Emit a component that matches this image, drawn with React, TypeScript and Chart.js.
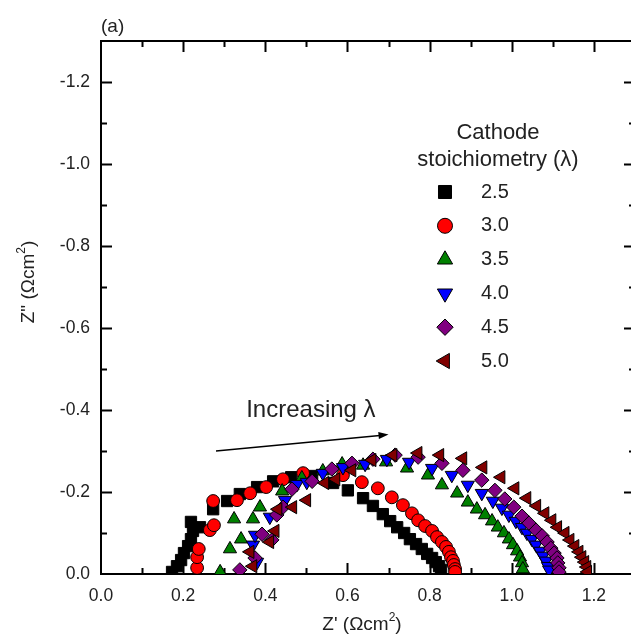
import React, { useEffect, useRef } from 'react';
import { Chart, registerables } from 'chart.js';

Chart.register(...registerables);

// ---- Data (Z' in Ωcm², Z'' in Ωcm²) ----
const seriesLabels = ['2.5', '3.0', '3.5', '4.0', '4.5', '5.0'];

const x25 = [0.173, 0.185, 0.195, 0.202, 0.212, 0.219, 0.224, 0.219, 0.241, 0.273, 0.307, 0.338, 0.380, 0.419, 0.463, 0.514, 0.565, 0.601, 0.638, 0.662, 0.686, 0.704, 0.721, 0.738, 0.752, 0.767, 0.781, 0.794, 0.806, 0.815, 0.823, 0.828];
const y25 = [-0.005, -0.019, -0.034, -0.051, -0.068, -0.085, -0.105, -0.127, -0.114, -0.158, -0.178, -0.195, -0.212, -0.226, -0.236, -0.239, -0.222, -0.204, -0.185, -0.166, -0.146, -0.129, -0.114, -0.100, -0.085, -0.073, -0.061, -0.049, -0.039, -0.029, -0.019, -0.010];

const x30 = [0.234, 0.234, 0.238, 0.265, 0.275, 0.273, 0.331, 0.363, 0.402, 0.443, 0.492, 0.589, 0.635, 0.674, 0.708, 0.735, 0.757, 0.772, 0.789, 0.806, 0.818, 0.830, 0.840, 0.847, 0.852, 0.857, 0.859, 0.862, 0.862];
const y30 = [-0.015, -0.041, -0.061, -0.107, -0.119, -0.178, -0.180, -0.197, -0.212, -0.231, -0.246, -0.241, -0.224, -0.209, -0.187, -0.168, -0.148, -0.131, -0.117, -0.105, -0.090, -0.078, -0.066, -0.054, -0.041, -0.032, -0.022, -0.012, -0.005];

const x35 = [0.290, 0.314, 0.341, 0.324, 0.370, 0.387, 0.441, 0.489, 0.540, 0.587, 0.638, 0.694, 0.745, 0.796, 0.830, 0.867, 0.893, 0.915, 0.935, 0.952, 0.966, 0.981, 0.993, 1.003, 1.013, 1.020, 1.025, 1.027];
const y35 = [-0.005, -0.061, -0.085, -0.134, -0.134, -0.163, -0.202, -0.234, -0.251, -0.268, -0.265, -0.273, -0.258, -0.241, -0.217, -0.197, -0.175, -0.158, -0.144, -0.129, -0.114, -0.100, -0.085, -0.071, -0.056, -0.041, -0.027, -0.012];

const x40 = [0.380, 0.370, 0.375, 0.411, 0.448, 0.477, 0.501, 0.540, 0.589, 0.643, 0.696, 0.750, 0.806, 0.854, 0.893, 0.927, 0.954, 0.976, 0.993, 1.010, 1.025, 1.037, 1.049, 1.059, 1.069, 1.076, 1.083, 1.088, 1.091];
const y40 = [-0.029, -0.071, -0.095, -0.139, -0.180, -0.219, -0.224, -0.246, -0.260, -0.268, -0.280, -0.273, -0.258, -0.241, -0.217, -0.197, -0.178, -0.161, -0.144, -0.129, -0.114, -0.100, -0.085, -0.071, -0.056, -0.044, -0.032, -0.019, -0.010];

const x45 = [0.338, 0.375, 0.392, 0.416, 0.428, 0.443, 0.465, 0.514, 0.562, 0.611, 0.662, 0.716, 0.772, 0.830, 0.881, 0.927, 0.959, 0.983, 1.005, 1.025, 1.042, 1.059, 1.074, 1.086, 1.095, 1.103, 1.110, 1.112, 1.115, 1.115];
const y45 = [-0.010, -0.039, -0.097, -0.083, -0.144, -0.163, -0.207, -0.226, -0.256, -0.270, -0.280, -0.290, -0.285, -0.270, -0.253, -0.229, -0.204, -0.183, -0.163, -0.141, -0.124, -0.107, -0.093, -0.078, -0.063, -0.051, -0.039, -0.027, -0.015, -0.005];

const x50 = [0.370, 0.363, 0.411, 0.424, 0.431, 0.467, 0.501, 0.545, 0.572, 0.611, 0.660, 0.711, 0.772, 0.825, 0.881, 0.930, 0.974, 1.008, 1.037, 1.061, 1.081, 1.098, 1.112, 1.130, 1.142, 1.154, 1.164, 1.171, 1.178, 1.183, 1.185];
const y50 = [-0.019, -0.054, -0.078, -0.105, -0.158, -0.163, -0.180, -0.222, -0.231, -0.253, -0.278, -0.290, -0.295, -0.290, -0.282, -0.260, -0.236, -0.209, -0.185, -0.166, -0.148, -0.131, -0.114, -0.100, -0.083, -0.068, -0.054, -0.041, -0.029, -0.017, -0.005];

const seriesX = [x25, x30, x35, x40, x45, x50];
const seriesY = [y25, y30, y35, y40, y45, y50];

// Annotation (data coordinates)
const arrowFrom = [0.280, -0.300];
const arrowTo = [0.700, -0.340];
const arrowTextAt = [0.511, -0.398];
const arrowText = 'Increasing λ';

const legendTitle = ['Cathode', 'stoichiometry (λ)'];
const panelLabel = '(a)';

// ---- Styles ----
const colors = ['#000000', '#ff0000', '#008000', '#0000ff', '#800080', '#800000'];
const pointStyles = ['rect', 'circle', 'triangle', 'triangle', 'rectRot', 'triangle'];
const rotations = [0, 0, 0, 180, 0, -90];
const radii = [8, 6.4, 7.6, 7.6, 7.2, 7.6];
const FONT = '"Liberation Sans", Arial, Helvetica, sans-serif';
const TEXT = '#222222';

function markerPath(ctx: CanvasRenderingContext2D, style: string, rot: number, x: number, y: number, r: number) {
  ctx.beginPath();
  if (style === 'circle') {
    ctx.arc(x, y, r, 0, Math.PI * 2);
  } else if (style === 'rect') {
    const s = r * Math.SQRT1_2;
    ctx.rect(x - s, y - s, 2 * s, 2 * s);
  } else if (style === 'rectRot') {
    ctx.moveTo(x, y - r);
    ctx.lineTo(x + r, y);
    ctx.lineTo(x, y + r);
    ctx.lineTo(x - r, y);
  } else {
    let a = (rot * Math.PI) / 180;
    for (let k = 0; k < 3; k++) {
      const px = x + Math.sin(a) * r;
      const py = y - Math.cos(a) * r;
      if (k === 0) ctx.moveTo(px, py);
      else ctx.lineTo(px, py);
      a += (2 * Math.PI) / 3;
    }
  }
  ctx.closePath();
}

const framePlugin = {
  id: 'frameTicks',
  beforeDatasetsDraw(chart: any) {
    const { ctx, chartArea } = chart;
    const { left, right, top, bottom } = chartArea;
    const xs = chart.scales.x;
    const ys = chart.scales.y;
    ctx.save();
    ctx.strokeStyle = '#000';
    ctx.lineWidth = 2;
    ctx.beginPath();
    for (let i = 1; i < 13; i++) {
      const px = Math.round(xs.getPixelForValue(i * 0.1)) + 0.5;
      const len = i % 2 === 0 ? 11 : 6;
      ctx.moveTo(px, bottom);
      ctx.lineTo(px, bottom - len);
      ctx.moveTo(px, top);
      ctx.lineTo(px, top + len);
    }
    for (let i = 1; i < 13; i++) {
      const py = Math.round(ys.getPixelForValue(-i * 0.1)) + 0.5;
      const len = i % 2 === 0 ? 11 : 6;
      ctx.moveTo(left, py);
      ctx.lineTo(left + len, py);
      ctx.moveTo(right, py);
      ctx.lineTo(right - len, py);
    }
    ctx.stroke();
    ctx.lineWidth = 2;
    ctx.strokeRect(left, top, right - left, bottom - top);
    ctx.restore();
  },
  afterDraw(chart: any) {
    const { ctx } = chart;
    const xs = chart.scales.x;
    const ys = chart.scales.y;
    ctx.save();
    // arrow
    const x1 = xs.getPixelForValue(arrowFrom[0]);
    const y1 = ys.getPixelForValue(arrowFrom[1]);
    const x2 = xs.getPixelForValue(arrowTo[0]);
    const y2 = ys.getPixelForValue(arrowTo[1]);
    const ang = Math.atan2(y2 - y1, x2 - x1);
    ctx.strokeStyle = '#000';
    ctx.fillStyle = '#000';
    ctx.lineWidth = 1.5;
    ctx.beginPath();
    ctx.moveTo(x1, y1);
    ctx.lineTo(x2 - Math.cos(ang) * 6, y2 - Math.sin(ang) * 6);
    ctx.stroke();
    ctx.beginPath();
    ctx.moveTo(x2, y2);
    ctx.lineTo(x2 - Math.cos(ang) * 10 + Math.sin(ang) * 3.5, y2 - Math.sin(ang) * 10 - Math.cos(ang) * 3.5);
    ctx.lineTo(x2 - Math.cos(ang) * 10 - Math.sin(ang) * 3.5, y2 - Math.sin(ang) * 10 + Math.cos(ang) * 3.5);
    ctx.closePath();
    ctx.fill();

    ctx.fillStyle = TEXT;
    ctx.textBaseline = 'middle';
    ctx.textAlign = 'center';
    ctx.font = `24px ${FONT}`;
    ctx.fillText(arrowText, xs.getPixelForValue(arrowTextAt[0]), ys.getPixelForValue(arrowTextAt[1]));

    // panel label
    ctx.textAlign = 'left';
    ctx.font = `19px ${FONT}`;
    ctx.fillText(panelLabel, 101, 27);

    // legend
    ctx.textAlign = 'center';
    ctx.font = `22px ${FONT}`;
    ctx.fillText(legendTitle[0], 498, 133);
    ctx.fillText(legendTitle[1], 498, 160);
    ctx.font = `20px ${FONT}`;
    const legendRadii = [9.2, 7.5, 8.8, 8.8, 8.2, 8.8];
    for (let i = 0; i < seriesLabels.length; i++) {
      const ly = 192 + i * 33.8;
      markerPath(ctx, pointStyles[i], rotations[i], 445, ly, legendRadii[i]);
      ctx.fillStyle = colors[i];
      ctx.fill();
      ctx.lineWidth = 1;
      ctx.strokeStyle = '#000';
      ctx.stroke();
      ctx.fillStyle = TEXT;
      ctx.textAlign = 'left';
      ctx.fillText(seriesLabels[i], 481, ly);
    }

    // axis titles with superscripts
    const drawTitle = (main: string, cx: number, cy: number, rotate: boolean) => {
      ctx.save();
      ctx.translate(cx, cy);
      if (rotate) ctx.rotate(-Math.PI / 2);
      ctx.fillStyle = TEXT;
      ctx.textBaseline = 'middle';
      ctx.textAlign = 'left';
      const big = `19px ${FONT}`;
      const small = `12px ${FONT}`;
      ctx.font = big;
      const w1 = ctx.measureText(main).width;
      const w3 = ctx.measureText(')').width;
      ctx.font = small;
      const w2 = ctx.measureText('2').width;
      const total = w1 + w2 + w3;
      let px = -total / 2;
      ctx.font = big;
      ctx.fillText(main, px, 0);
      px += w1;
      ctx.font = small;
      ctx.fillText('2', px, -7);
      px += w2;
      ctx.font = big;
      ctx.fillText(')', px, 0);
      ctx.restore();
    };
    drawTitle("Z' (Ωcm", 362, 625, false);
    drawTitle('Z" (Ωcm', 29, 282, true);
    ctx.restore();
  },
};

export default function App() {
  const canvasRef = useRef<HTMLCanvasElement | null>(null);

  useEffect(() => {
    if (!canvasRef.current) return;
    const datasets = seriesLabels.map((label, i) => ({
      label,
      data: seriesX[i].map((x, k) => ({ x, y: seriesY[i][k] })),
      pointStyle: pointStyles[i],
      rotation: rotations[i],
      pointRadius: radii[i],
      backgroundColor: colors[i],
      borderColor: '#000000',
      borderWidth: 1,
      showLine: false,
      order: seriesLabels.length - 1 - i,
    }));

    const chart = new Chart(canvasRef.current, {
      type: 'scatter',
      data: { datasets },
      options: {
        responsive: false,
        animation: false,
        events: [],
        layout: { padding: { top: 41, right: 15, left: 0, bottom: 0 } },
        plugins: { legend: { display: false }, tooltip: { enabled: false } },
        scales: {
          x: {
            type: 'linear',
            min: 0,
            max: 1.3,
            grid: { display: false, drawTicks: false },
            border: { display: false },
            ticks: {
              stepSize: 0.2,
              includeBounds: false,
              padding: 12,
              color: TEXT,
              font: { family: FONT, size: 17.5 },
              callback: (v: any) => Number(v).toFixed(1),
            },
            afterFit: (s: any) => { s.height = 60; },
          },
          y: {
            type: 'linear',
            min: -1.3,
            max: 0,
            reverse: true,
            grid: { display: false, drawTicks: false },
            border: { display: false },
            ticks: {
              stepSize: 0.2,
              includeBounds: false,
              padding: 11,
              color: TEXT,
              font: { family: FONT, size: 17.5 },
              callback: (v: any) => {
                const n = Number(v);
                return Math.abs(n) < 1e-9 ? '0.0' : n.toFixed(1);
              },
            },
            afterFit: (s: any) => { s.width = 101; },
          },
        },
      },
      plugins: [framePlugin],
    } as any);
    return () => chart.destroy();
  }, []);

  return (
    <div style={{ position: 'fixed', left: 0, top: 0, width: 631, height: 634, overflow: 'hidden', background: '#fff' }}>
      <canvas ref={canvasRef} width={650} height={634} style={{ display: 'block', width: 650, height: 634 }} />
    </div>
  );
}
